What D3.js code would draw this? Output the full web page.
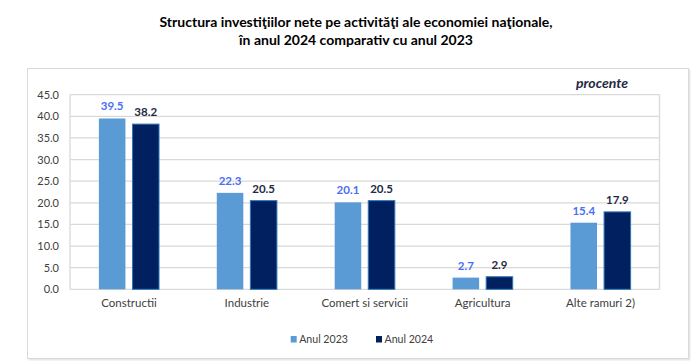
<!DOCTYPE html>
<html><head><meta charset="utf-8">
<script src="https://cdn.jsdelivr.net/npm/d3@7"></script>
<style>body{margin:0;background:#fff}svg{display:block}</style>
</head><body>
<svg id="c" width="699" height="364"></svg>
<script>
const categories = ["Constructii","Industrie","Comert si servicii","Agricultura","Alte ramuri 2)"];
const series2023 = [39.5,22.3,20.1,2.7,15.4];
const series2024 = [38.2,20.5,20.5,2.9,17.9];
const seriesNames = ["Anul 2023","Anul 2024"];
const yTicks = [0,5,10,15,20,25,30,35,40,45];
const titleLines = ["Structura investiţiilor nete pe activităţi ale economiei naţionale,","în anul 2024 comparativ cu anul 2023"];

const svg = d3.select("#c");
const font = "Lato, 'Open Sans', sans-serif";
const colors = ["#5b9bd5","#002060"];
const labelColors = ["#4a6ef5","#1f2a44"];

// frame with soft shadow
svg.append("rect").attr("x",28.5).attr("y",69.5).attr("width",662).attr("height",291)
  .attr("fill","#e8e8e8");
svg.append("rect").attr("x",27.5).attr("y",68.5).attr("width",661).attr("height",290)
  .attr("fill","#fff").attr("stroke","#d9d9d9").attr("stroke-width",1);

// title
svg.append("g").selectAll("text").data(titleLines).join("text")
  .attr("x",356).attr("y",(d,i)=>27+i*18).attr("text-anchor","middle")
  .attr("font-family",font).attr("font-weight","bold").attr("font-size",14).attr("fill","#000")
  .text(d=>d);

const m = {l:70,r:659.5,t:94.7,b:289.3};
const x = d3.scaleBand().domain(categories).range([m.l,m.r]);
const inner = d3.scaleBand().domain(seriesNames).range([0,x.bandwidth()]).paddingInner(0.21).paddingOuter(0.86);
const y = d3.scaleLinear().domain([0,45]).range([m.b,m.t]);

// gridlines
svg.append("g").selectAll("line").data(yTicks).join("line")
  .attr("x1",m.l).attr("x2",m.r).attr("y1",d=>y(d)).attr("y2",d=>y(d))
  .attr("stroke","#d9d9d9").attr("stroke-width",1.3);
svg.append("line").attr("x1",m.l).attr("x2",m.l).attr("y1",m.t).attr("y2",m.b).attr("stroke","#d9d9d9").attr("stroke-width",1.3);
svg.append("line").attr("x1",m.r).attr("x2",m.r).attr("y1",m.t).attr("y2",m.b).attr("stroke","#d9d9d9").attr("stroke-width",1.3);

// y axis
const yAxis = d3.axisLeft(y).tickValues(yTicks).tickFormat(d3.format(".1f")).tickSize(0).tickPadding(11);
const ya = svg.append("g").attr("transform",`translate(${m.l},0)`).call(yAxis);
ya.select(".domain").remove();
ya.selectAll("text").attr("font-family",font).attr("font-size",11).attr("fill","#404040");

// x axis
const xAxis = d3.axisBottom(x).tickSize(0).tickPadding(10);
const xa = svg.append("g").attr("transform",`translate(0,${m.b})`).call(xAxis);
xa.select(".domain").remove();
xa.selectAll("text").attr("font-family",font).attr("font-size",11.5).attr("fill","#404040");

// bars
const data = [series2023, series2024];
data.forEach((vals,si)=>{
  const g = svg.append("g");
  g.selectAll("rect").data(vals).join("rect")
    .attr("x",(d,i)=>x(categories[i])+inner(seriesNames[si]))
    .attr("width",inner.bandwidth())
    .attr("y",d=>y(d)).attr("height",d=>y(0)-y(d))
    .attr("fill",colors[si])
    .attr("stroke",si===1?"#2e75b6":"none").attr("stroke-width",si===1?1:0);
  g.selectAll("text").data(vals).join("text")
    .attr("x",(d,i)=>x(categories[i])+inner(seriesNames[si])+inner.bandwidth()/2)
    .attr("y",d=>y(d)-8).attr("text-anchor","middle")
    .attr("font-family",font).attr("font-weight","bold").attr("font-size",11.5)
    .attr("fill",labelColors[si]).text(d=>d.toFixed(1));
});

// unit
svg.append("text").attr("x",628).attr("y",88).attr("text-anchor","end")
  .attr("font-family",font).attr("font-weight","bold").attr("font-style","italic")
  .attr("font-size",14).attr("fill","#1f2a44").text("procente");

// legend
const legX = [290.7,376];
const lg = svg.append("g");
seriesNames.forEach((n,i)=>{
  lg.append("rect").attr("x",legX[i]).attr("y",336).attr("width",6).attr("height",6.5).attr("fill",colors[i]);
  lg.append("text").attr("x",legX[i]+8.5).attr("y",343).attr("font-family",font).attr("font-size",10.6)
    .attr("fill","#404040").text(n);
});
</script>
</body></html>
